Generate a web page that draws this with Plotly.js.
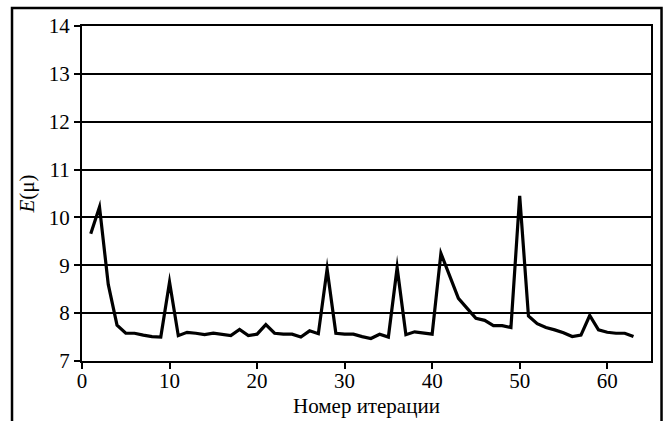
<!DOCTYPE html>
<html>
<head>
<meta charset="utf-8">
<script src="https://cdn.plot.ly/plotly-3.0.1.min.js"></script>
<style>
  html, body { margin: 0; padding: 0; background: #fff; }
  #chart { width: 667px; height: 421px; }
  .js-line { stroke-linejoin: miter !important; stroke-miterlimit: 12 !important; }
</style>
</head>
<body>
<div id="chart"></div>
<script>
const iterations = [1,2,3,4,5,6,7,8,9,10,11,12,13,14,15,16,17,18,19,20,21,22,23,24,25,26,27,28,29,30,31,32,33,34,35,36,37,38,39,40,41,42,43,44,45,46,47,48,49,50,51,52,53,54,55,56,57,58,59,60,61,62,63];
const energy = [9.66,10.22,8.6,7.75,7.58,7.58,7.54,7.51,7.5,8.65,
                7.53,7.6,7.58,7.55,7.58,7.56,7.53,7.66,7.53,7.56,
                7.76,7.58,7.56,7.56,7.5,7.63,7.57,8.92,7.58,7.56,
                7.56,7.51,7.47,7.56,7.5,8.95,7.55,7.61,7.58,7.56,
                9.25,8.76,8.31,8.1,7.89,7.85,7.74,7.74,7.7,10.45,
                7.94,7.78,7.7,7.65,7.59,7.51,7.54,7.95,7.65,7.6,
                7.58,7.58,7.51];
const xTickVals = [0,10,20,30,40,50,60];
const yTickVals = [7,8,9,10,11,12,13,14];
const xTitle = 'Номер итерации';
const yTitle = '<i>E</i>(μ)';

const font = {family: 'Liberation Serif, Times New Roman, serif', size: 21, color: '#000'};

const trace = {
  x: iterations,
  y: energy,
  type: 'scatter',
  mode: 'lines',
  line: {color: '#000', width: 3.2},
  hoverinfo: 'none'
};

const layout = {
  width: 667,
  height: 421,
  margin: {l: 82, r: 16, t: 26, b: 60},
  paper_bgcolor: '#fff',
  plot_bgcolor: '#fff',
  showlegend: false,
  font: font,
  xaxis: {
    range: [0, 65],
    tickvals: xTickVals,
    ticks: 'outside',
    ticklen: 6,
    tickwidth: 2,
    tickcolor: '#000',
    ticklabelstandoff: -6,
    showgrid: false,
    zeroline: false,
    showline: true,
    linecolor: '#000',
    linewidth: 2,
    mirror: true,
    tickfont: font
  },
  yaxis: {
    range: [7, 14],
    tickvals: yTickVals,
    ticks: 'outside',
    ticklen: 6,
    tickwidth: 2,
    tickcolor: '#000',
    showgrid: true,
    gridcolor: '#000',
    gridwidth: 2,
    zeroline: false,
    showline: true,
    linecolor: '#000',
    linewidth: 2,
    mirror: true,
    tickfont: font,
    title: {text: yTitle, font: font, standoff: 8}
  },
  annotations: [{
    text: xTitle,
    xref: 'paper', yref: 'paper',
    x: 0.5, y: -0.134,
    xanchor: 'center', yanchor: 'middle',
    showarrow: false,
    font: font
  }],
  shapes: [{
    type: 'path',
    xref: 'paper', yref: 'paper',
    path: 'M -0.123 -0.2 L -0.123 1.0537 L 1.0185 1.0537 L 1.0185 -0.2',
    line: {color: '#000', width: 2.5},
    layer: 'above'
  }]
};

Plotly.newPlot('chart', [trace], layout, {staticPlot: true, displayModeBar: false});
</script>
</body>
</html>
